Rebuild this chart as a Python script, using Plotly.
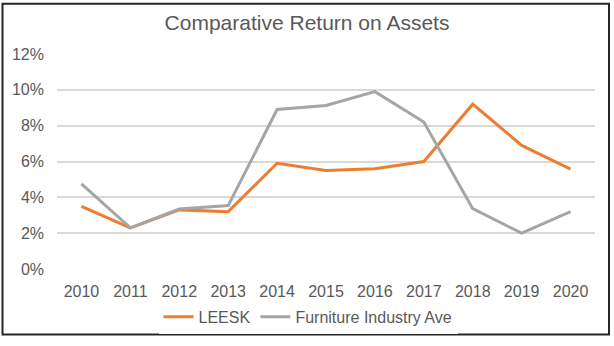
import plotly.graph_objects as go

years = ["2010", "2011", "2012", "2013", "2014", "2015", "2016", "2017", "2018", "2019", "2020"]
leesk = [0.035, 0.023, 0.033, 0.032, 0.059, 0.055, 0.056, 0.060, 0.092, 0.069, 0.0557]
industry = [0.0475, 0.023, 0.0335, 0.0354, 0.089, 0.0913, 0.099, 0.082, 0.0337, 0.020, 0.032]
y_ticks = [0, 0.02, 0.04, 0.06, 0.08, 0.10, 0.12]
y_labels = ["0%", "2%", "4%", "6%", "8%", "10%", "12%"]

W, H = 614, 346
L, R, T, B = 57, 19, 54, 72
pw, ph = W - L - R, H - T - B

font = "Liberation Sans, Arial, sans-serif"
txt = "#595959"

fig = go.Figure()
fig.add_trace(go.Scatter(x=years, y=leesk, mode="lines", name="LEESK",
                         line=dict(color="#ED7D31", width=3)))
fig.add_trace(go.Scatter(x=years, y=industry, mode="lines", name="Furniture Industry Ave",
                         line=dict(color="#A5A5A5", width=3)))

fig.update_layout(
    width=W, height=H,
    margin=dict(l=L, r=R, t=T, b=B),
    paper_bgcolor="white", plot_bgcolor="white",
    font=dict(family=font, color=txt, size=16),
    title=dict(text="Comparative Return on Assets", x=0.5, xanchor="center",
               y=1 - 23 / H, yanchor="middle", font=dict(size=21, color=txt)),
    xaxis=dict(type="category", range=[-0.5, len(years) - 0.5],
               showgrid=False, zeroline=False, showline=False,
               ticks="", tickfont=dict(size=16, color=txt), ticklabelstandoff=11),
    yaxis=dict(range=[0, 0.12], tickvals=y_ticks, ticktext=y_labels,
               showgrid=True, gridcolor="#D9D9D9", gridwidth=1.5, zeroline=False,
               showline=False, ticks="", tickfont=dict(size=16, color=txt),
               ticklabelstandoff=12),
    legend=dict(orientation="h", x=(308 - L) / pw, xanchor="center",
                y=(T + ph - 323) / ph, yanchor="middle",
                font=dict(size=16, color=txt), itemwidth=30),
    showlegend=True,
    shapes=[dict(type="rect", xref="paper", yref="paper",
                 x0=(2.5 - L) / pw, x1=(609 - L) / pw,
                 y0=(T + ph - 341) / ph, y1=(T + ph - 2.5) / ph,
                 line=dict(color="#262626", width=2), fillcolor="rgba(0,0,0,0)",
                 layer="below")],
)

fig.write_html("out.html")
